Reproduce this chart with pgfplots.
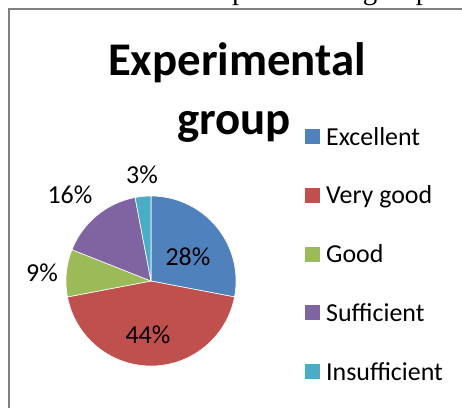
\documentclass[border=0pt]{standalone}
\usepackage{fontspec}
\setmainfont{Carlito}
\newfontfamily\pageserif{Liberation Serif}
\usepackage{pgfplots}
\usepackage{pgfplotstable}
\pgfplotsset{compat=1.18}

\definecolor{cExc}{HTML}{4F81BD}
\definecolor{cVG}{HTML}{C0504D}
\definecolor{cGood}{HTML}{9BBB59}
\definecolor{cSuf}{HTML}{8064A2}
\definecolor{cIns}{HTML}{4BACC6}
\definecolor{frame}{HTML}{808080}

% share in percent, slice colour, label position (px, y up)
\pgfplotstableread{
label        value color lx  ly
Excellent    28    cExc  188 150
{Very good}  44    cVG   148 72
Good         9     cGood 42  134
Sufficient   16    cSuf  70  212
Insufficient 3     cIns  142 232
}\pietable

\tikzset{
  lbl/.style={font=\fontsize{26}{31}\selectfont, inner sep=0pt},
  ttl/.style={font=\bfseries\fontsize{47}{56}\selectfont, inner sep=0pt, anchor=base},
}

\begin{document}
\begin{tikzpicture}
\begin{axis}[
  x=1bp, y=1bp,
  xmin=0, xmax=462, ymin=0, ymax=407,
  hide axis,
  clip=true,
]
\coordinate (bl) at (rel axis cs:0,0);
\coordinate (tr) at (rel axis cs:1,1);

% tail of the page text above the chart
\node[font=\pageserif\fontsize{29}{34}\selectfont, anchor=base west, inner sep=0pt]
  at (axis cs:204.6,407) {experimental group};

% chart frame
\draw[frame, line width=2bp] (axis cs:9,-10) -- (axis cs:9,398) -- (axis cs:480,398);

% slices, clockwise from 12 o'clock
\def\cum{0}
\pgfplotsforeachungrouped \i in {0,...,4}{%
  \pgfplotstablegetelem{\i}{value}\of\pietable \let\v\pgfplotsretval
  \pgfplotstablegetelem{\i}{color}\of\pietable \let\c\pgfplotsretval
  \pgfplotstablegetelem{\i}{label}\of\pietable \let\lab\pgfplotsretval
  \pgfplotstablegetelem{\i}{lx}\of\pietable \let\lx\pgfplotsretval
  \pgfplotstablegetelem{\i}{ly}\of\pietable \let\ly\pgfplotsretval
  \pgfmathsetmacro\sa{90-3.6*\cum}
  \pgfmathsetmacro\ea{\sa-3.6*\v}
  \pgfmathsetmacro\cum{\cum+\v}
  \pgfmathsetmacro\yb{262-58.75*\i}
  \edef\cmd{%
    \noexpand\fill[\c, draw=white, line width=0.6bp]
      (axis cs:151,126) -- ([shift={(\sa:85bp)}]axis cs:151,126)
      arc[start angle=\sa, end angle=\ea, radius=85bp] -- cycle;
    \noexpand\node[lbl] at (axis cs:\lx,\ly) {\v\noexpand\%};
    \noexpand\fill[\c] (axis cs:305,\yb+1) rectangle (axis cs:320,\yb+16);
    \noexpand\node[lbl, anchor=base west] at (axis cs:326,\yb) {\lab};
  }\cmd
}

% title
\node[ttl] at (axis cs:237,332) {Experimental};
\node[ttl] at (axis cs:234,273) {group};
\end{axis}
\pgfresetboundingbox
\useasboundingbox (bl) rectangle (tr);
\end{tikzpicture}
\end{document}
